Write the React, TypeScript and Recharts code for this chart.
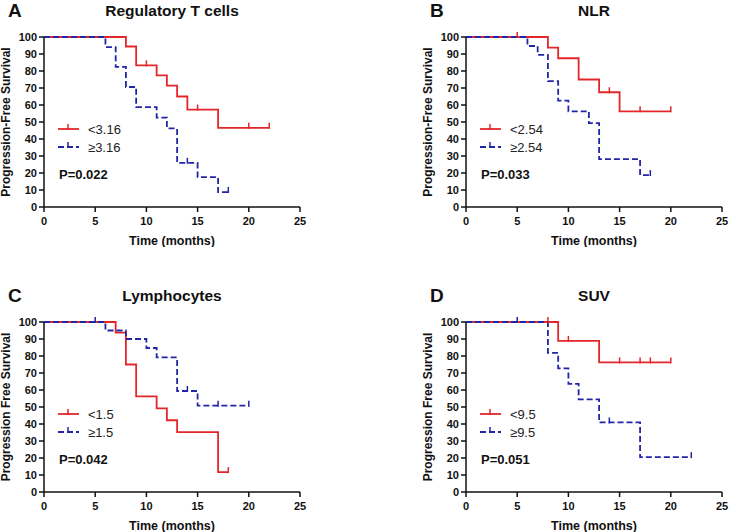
import React from 'react'
import { LineChart, Line, XAxis, YAxis, Label } from 'recharts'

const RED = '#e3262b'
const BLUE = '#2226a6'
const FONT = 'Arial, "Liberation Sans", Helvetica, sans-serif'

const xTicks = [0, 5, 10, 15, 20, 25]
const yTicks = [0, 10, 20, 30, 40, 50, 60, 70, 80, 90, 100]

// A - Regulatory T cells
const tregLowTimes = [0, 8, 9, 11, 12, 13, 14, 17]
const tregLowSurv = [100, 94.4, 83.3, 77.4, 71.4, 65, 57.3, 46.6]
const tregLowCensor = [10, 15, 20, 22]
const tregHighTimes = [0, 6, 7, 8, 9, 11, 12, 13, 15, 17]
const tregHighSurv = [100, 94.1, 82.4, 70.6, 58.8, 52.6, 46.2, 26, 17.6, 8.8]
const tregHighCensor = [14, 18]

// B - NLR
const nlrLowTimes = [0, 8, 9, 11, 13, 15]
const nlrLowSurv = [100, 93.8, 87.5, 75, 67.5, 56.3]
const nlrLowCensor = [5, 14, 17, 20]
const nlrHighTimes = [0, 6, 7, 8, 9, 10, 12, 13, 17]
const nlrHighSurv = [100, 94.7, 89.5, 74, 62.6, 56.3, 49.3, 28.2, 18.8]
const nlrHighCensor = [18]

// C - Lymphocytes
const lymLowTimes = [0, 7, 8, 9, 11, 12, 13, 17]
const lymLowSurv = [100, 93.8, 75, 56.2, 49.2, 42.2, 35.2, 11.7]
const lymLowCensor = [18]
const lymHighTimes = [0, 6, 8, 10, 11, 13, 15]
const lymHighSurv = [100, 95, 90, 84.7, 79.2, 59.4, 50.8]
const lymHighCensor = [5, 14, 17, 20]

// D - SUV
const suvLowTimes = [0, 9, 13]
const suvLowSurv = [100, 88.9, 76.2]
const suvLowCensor = [8, 10, 15, 17, 18, 20]
const suvHighTimes = [0, 8, 9, 10, 11, 13, 17]
const suvHighSurv = [100, 81.8, 72.7, 63.6, 54.5, 40.9, 20.5]
const suvHighCensor = [5, 14, 22]

type Pt = { t: number; s: number; c: boolean }

function buildCurve(times: number[], surv: number[], censor: number[]): Pt[] {
  const pts: Pt[] = times.map((t, i) => ({ t, s: surv[i], c: false }))
  censor.forEach((t) => {
    let s = surv[0]
    times.forEach((et, i) => {
      if (et <= t) s = surv[i]
    })
    pts.push({ t, s, c: true })
  })
  return pts.sort((a, b) => a.t - b.t || (a.c ? 1 : -1))
}

const tickMark = (color: string) => (props: any) => {
  const { cx, cy, payload, index } = props
  if (!payload || !payload.c) return <g key={`n${index}`} />
  return (
    <line key={`c${index}`} x1={cx} x2={cx} y1={cy - 5} y2={cy + 1} stroke={color} strokeWidth={1.5} />
  )
}

interface PanelProps {
  left: number
  top: number
  letter: string
  title: string
  yLabel: string
  low: Pt[]
  high: Pt[]
  lowName: string
  highName: string
  p: string
}

const W = 320
const H = 247

function Panel({ left, top, letter, title, yLabel, low, high, lowName, highName, p }: PanelProps) {
  const axisTick = { fontSize: 11, fontWeight: 700, fill: '#111', fontFamily: FONT }
  return (
    <div style={{ position: 'absolute', left, top, width: W, height: H }}>
      <LineChart width={W} height={H} margin={{ top: 37, right: 20, bottom: 0, left: 0 }}>
        <XAxis
          type="number"
          dataKey="t"
          domain={[0, 25]}
          ticks={xTicks}
          allowDataOverflow
          tick={axisTick}
          tickSize={5}
          tickMargin={5}
          height={40}
          stroke="#111"
          strokeWidth={1.5}
          tickLine={{ stroke: '#111', strokeWidth: 1.5 }}
        >
          <Label
            value="Time (months)"
            position="insideBottom"
            offset={2}
            style={{ fontSize: 12.5, fontWeight: 700, fill: '#111', fontFamily: FONT }}
          />
        </XAxis>
        <YAxis
          type="number"
          dataKey="s"
          domain={[0, 100]}
          ticks={yTicks}
          interval={0}
          tick={axisTick}
          tickSize={5}
          width={44}
          stroke="#111"
          strokeWidth={1.5}
          tickLine={{ stroke: '#111', strokeWidth: 1.5 }}
        >
          <Label
            value={yLabel}
            angle={-90}
            position="center"
            dx={-16}
            style={{ fontSize: 12, fontWeight: 700, fill: '#111', fontFamily: FONT, textAnchor: 'middle' }}
          />
        </YAxis>
        <Line
          data={low}
          dataKey="s"
          type="stepAfter"
          stroke={RED}
          strokeWidth={1.8}
          dot={tickMark(RED)}
          activeDot={false}
          isAnimationActive={false}
        />
        <Line
          data={high}
          dataKey="s"
          type="stepAfter"
          stroke={BLUE}
          strokeWidth={1.8}
          strokeDasharray="6 3"
          dot={tickMark(BLUE)}
          activeDot={false}
          isAnimationActive={false}
        />
      </LineChart>
      <svg
        width={W}
        height={H}
        style={{ position: 'absolute', left: 0, top: 0, pointerEvents: 'none', fontFamily: FONT }}
      >
        <text x={8} y={17} fontSize={19} fontWeight={700} fill="#111">
          {letter}
        </text>
        <text x={172} y={16} fontSize={15.5} fontWeight={700} fill="#111" textAnchor="middle">
          {title}
        </text>
        <line x1={58} x2={79} y1={129} y2={129} stroke={RED} strokeWidth={1.8} />
        <line x1={68} x2={68} y1={124} y2={130} stroke={RED} strokeWidth={1.5} />
        <text x={88} y={133.5} fontSize={13} fill="#222">
          {lowName}
        </text>
        <line x1={58} x2={79} y1={147} y2={147} stroke={BLUE} strokeWidth={1.8} strokeDasharray="6 3" />
        <line x1={68} x2={68} y1={142} y2={148} stroke={BLUE} strokeWidth={1.5} />
        <text x={88} y={151.5} fontSize={13} fill="#222">
          {highName}
        </text>
        <text x={59} y={178.5} fontSize={13} fontWeight={700} fill="#111">
          {p}
        </text>
      </svg>
    </div>
  )
}

export default function App() {
  return (
    <div
      style={{
        position: 'absolute',
        left: 0,
        top: 0,
        width: 729,
        height: 532,
        overflow: 'hidden',
        background: '#fff',
      }}
    >
      <Panel
        left={0}
        top={0}
        letter="A"
        title="Regulatory T cells"
        yLabel="Progression-Free Survival"
        low={buildCurve(tregLowTimes, tregLowSurv, tregLowCensor)}
        high={buildCurve(tregHighTimes, tregHighSurv, tregHighCensor)}
        lowName="<3.16"
        highName="≥3.16"
        p="P=0.022"
      />
      <Panel
        left={422}
        top={0}
        letter="B"
        title="NLR"
        yLabel="Progression-Free Survival"
        low={buildCurve(nlrLowTimes, nlrLowSurv, nlrLowCensor)}
        high={buildCurve(nlrHighTimes, nlrHighSurv, nlrHighCensor)}
        lowName="<2.54"
        highName="≥2.54"
        p="P=0.033"
      />
      <Panel
        left={0}
        top={285}
        letter="C"
        title="Lymphocytes"
        yLabel="Progression Free Survival"
        low={buildCurve(lymLowTimes, lymLowSurv, lymLowCensor)}
        high={buildCurve(lymHighTimes, lymHighSurv, lymHighCensor)}
        lowName="<1.5"
        highName="≥1.5"
        p="P=0.042"
      />
      <Panel
        left={422}
        top={285}
        letter="D"
        title="SUV"
        yLabel="Progression Free Survival"
        low={buildCurve(suvLowTimes, suvLowSurv, suvLowCensor)}
        high={buildCurve(suvHighTimes, suvHighSurv, suvHighCensor)}
        lowName="<9.5"
        highName="≥9.5"
        p="P=0.051"
      />
    </div>
  )
}
